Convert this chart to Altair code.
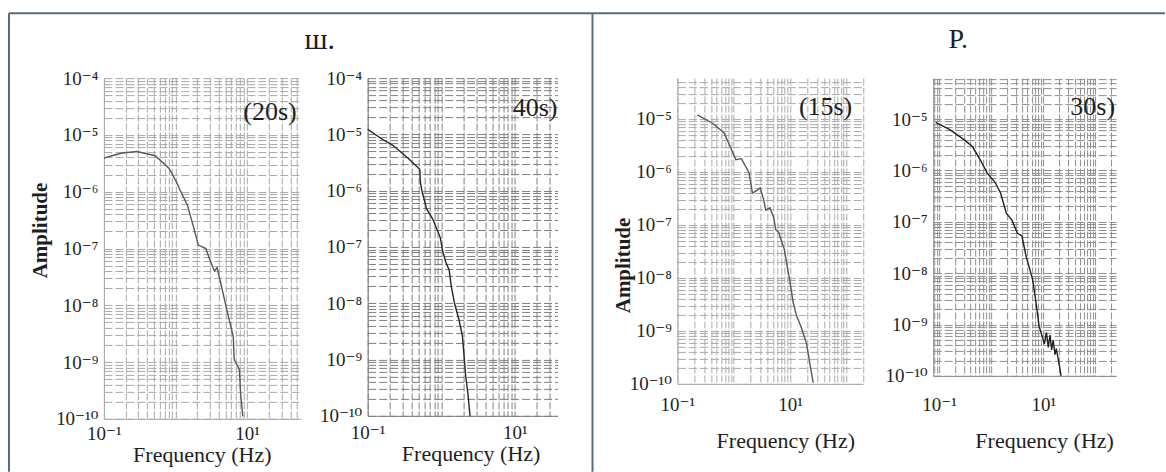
import altair as alt
import pandas as pd

# ---------------- data ----------------
f20 = [0.10, 0.13, 0.18, 0.29, 0.52, 0.81, 1.04, 1.15, 1.47, 1.75, 2.08, 2.65, 2.95,
       3.5, 3.8, 4.2, 5.0, 5.5, 6.4, 6.6, 7.8, 8.1, 8.7]
a20 = [3.9e-6, 4.3e-6, 4.8e-6, 5.1e-6, 4.3e-6, 2.6e-6, 1.45e-6, 1.08e-6, 5.7e-7, 2.6e-7,
       1.15e-7, 1.0e-7, 6.8e-8, 4.0e-8, 4.6e-8, 2.7e-8, 1.04e-8, 6.2e-9, 2.8e-9, 1.1e-9,
       7.4e-10, 2.8e-10, 1.1e-10]

f40 = [0.10, 0.158, 0.22, 0.36, 0.51, 0.52, 0.55, 0.63, 0.76, 0.97, 1.04, 1.15, 1.28,
       1.37, 1.52, 1.74, 1.94, 2.08, 2.15, 2.3, 2.46]
a40 = [1.23e-5, 8.2e-6, 6.4e-6, 3.7e-6, 2.4e-6, 1.4e-6, 9.5e-7, 4.8e-7, 3.2e-7, 1.47e-7,
       8.7e-8, 5.4e-8, 3.9e-8, 1.95e-8, 9.8e-9, 5.1e-9, 2.6e-9, 8.6e-10, 5e-10, 2.5e-10, 1e-10]

f15 = [0.225, 0.42, 0.67, 0.87, 1.09, 1.37, 1.88, 2.15, 2.58, 2.95, 3.4, 3.7, 4.4, 5.1,
       5.6, 6.4, 6.6, 7.9, 10, 11.4, 13.1, 15.7, 19.7, 22.4, 25.8]
a15 = [1.2e-5, 8.3e-6, 5.5e-6, 3.0e-6, 1.7e-6, 1.78e-6, 9.6e-7, 4.0e-7, 4.5e-7, 5.0e-7,
       3.0e-7, 1.9e-7, 2.1e-7, 1.4e-7, 8.1e-8, 7.1e-8, 6.2e-8, 3.5e-8, 8.2e-9, 3.4e-9,
       1.9e-9, 1.2e-9, 5.7e-10, 2.5e-10, 1.05e-10]

f30 = [0.086, 0.164, 0.31, 0.44, 0.62, 0.84, 1.19, 1.52, 1.95, 2.5, 3.2, 3.9, 4.7, 6.2,
       7.3, 8.3, 9.5, 10.5, 11.5, 12.5, 13.5, 14.5, 15.5, 16.8, 17.8, 20, 22]
a30 = [8.7e-6, 6.2e-6, 3.9e-6, 2.9e-6, 1.6e-6, 8.9e-7, 5.9e-7, 3.6e-7, 1.48e-7, 1.08e-7,
       6.0e-8, 5.3e-8, 2.1e-8, 7.8e-9, 2.6e-9, 9.3e-10, 6.0e-10, 4.2e-10, 7.0e-10, 3.6e-10,
       6.2e-10, 3.2e-10, 5.0e-10, 2.6e-10, 3.4e-10, 1.8e-10, 1.0e-10]

x_label_exps = [-1, 1]
y_label_exps_a = [-4, -5, -6, -7, -8, -9, -10]
y_label_exps_b = [-5, -6, -7, -8, -9, -10]

group_titles = ["ш.", "P."]
panel_tags = ["(20s)", "40s)", "(15s)", "30s)"]
x_title = "Frequency (Hz)"
y_title = "Amplitude"

SERIF = "Liberation Serif, DejaVu Serif, serif"
BORDER = "#5b6b7b"
TXT = "#1e1e1e"

SUP = {"0": "⁰", "1": "¹", "2": "²", "3": "³", "4": "⁴", "5": "⁵",
       "6": "⁶", "7": "⁷", "8": "⁸", "9": "⁹", "-": "⁻"}


def pow_label(e):
    return "10" + "".join(SUP[c] for c in str(e))


def label_expr(exps):
    parts = [f"abs(log(datum.value)/LN10 - ({e})) < 0.001 ? '{pow_label(e)}'" for e in exps]
    return " : ".join(parts) + " : ''"


def log_ticks(lo, hi):
    vals = []
    for e in range(-12, 4):
        for m in range(1, 10):
            v = m * 10.0 ** e
            if lo * 0.9999 <= v <= hi * 1.0001:
                vals.append(float(f"{v:.6g}"))
    return vals


one = pd.DataFrame({"k": [0]})


def panel(f, a, xdom, ydom, yexps, linec, gridc, tag, tagx, tagy,
          xtx, xty, xlp, ytitle=None, ytx=0, yty=0):
    df = pd.DataFrame({"f": f, "a": a, "i": list(range(len(f)))})
    xaxis = alt.Axis(values=log_ticks(*xdom), labelExpr=label_expr(x_label_exps),
                     labelOverlap=False, labelFlush=False, labelBound=False,
                     ticks=False, labelPadding=xlp, labelFontSize=19,
                     grid=True, gridColor=gridc, gridDash=[7, 2], gridWidth=1,
                     domainColor=gridc, title=x_title, titleX=xtx, titleY=xty,
                     titleBaseline="middle", titleAlign="center", titleFontSize=22,
                     titleFontWeight="normal")
    if ytitle:
        yaxis = alt.Axis(values=log_ticks(*ydom), labelExpr=label_expr(yexps),
                         labelOverlap=False, labelFlush=False, labelBound=False,
                         ticks=False, labelPadding=6, labelFontSize=19,
                         grid=True, gridColor=gridc, gridDash=[8, 3], gridWidth=1,
                         domainColor=gridc, title=ytitle, titleX=ytx, titleY=yty,
                         titleBaseline="middle", titleAlign="center", titleFontSize=21,
                         titleFontWeight="bold")
    else:
        yaxis = alt.Axis(values=log_ticks(*ydom), labelExpr=label_expr(yexps),
                         labelOverlap=False, labelFlush=False, labelBound=False,
                         ticks=False, labelPadding=6, labelFontSize=19,
                         grid=True, gridColor=gridc, gridDash=[8, 3], gridWidth=1,
                         domainColor=gridc, title=None)
    line = alt.Chart(df).mark_line(color=linec, strokeWidth=1.4).encode(
        x=alt.X("f:Q", scale=alt.Scale(type="log", domain=list(xdom), nice=False), axis=xaxis),
        y=alt.Y("a:Q", scale=alt.Scale(type="log", domain=list(ydom), nice=False), axis=yaxis),
        order="i:Q",
    )
    ann = alt.Chart(one).mark_text(text=tag, font=SERIF, fontSize=26, align="right",
                                   baseline="middle", color=TXT).encode(
        x=alt.value(tagx), y=alt.value(tagy))
    return line, ann


# panel 1 (20s)
l1, t1 = panel(f20, a20, (0.1, 56), (1e-10, 1e-4), y_label_exps_a,
               "#585858", "#a8a8a8", panel_tags[0], 193, 34, 98, 36, 6,
               ytitle=y_title, ytx=-63, yty=152)
# decorations (frame + group titles) drawn relative to panel 1
deco = [
    alt.Chart(one).mark_rule(color=BORDER, strokeWidth=2).encode(
        x=alt.value(-95), y=alt.value(-65), y2=alt.value(394)),
    alt.Chart(one).mark_rule(color=BORDER, strokeWidth=2).encode(
        x=alt.value(-95), x2=alt.value(1062), y=alt.value(-65)),
    alt.Chart(one).mark_rule(color=BORDER, strokeWidth=2).encode(
        x=alt.value(489), y=alt.value(-65), y2=alt.value(394)),
    alt.Chart(one).mark_text(text=group_titles[0], font=SERIF, fontSize=30, align="center",
                             baseline="middle", color=TXT).encode(
        x=alt.value(216), y=alt.value(-38)),
    alt.Chart(one).mark_text(text=group_titles[1], font=SERIF, fontSize=28, align="center",
                             baseline="middle", color=TXT).encode(
        x=alt.value(855), y=alt.value(-38)),
]
p1 = alt.layer(l1, t1, *deco).properties(width=197, height=341)

l2, t2 = panel(f40, a40, (0.1, 38), (1e-10, 1e-4), y_label_exps_a,
               "#262626", "#7e7e7e", panel_tags[1], 190, 30, 103, 38, 8)
p2 = alt.layer(l2, t2).properties(width=190, height=338)

l3, t3 = panel(f15, a15, (0.1, 200), (1e-10, 5.9e-5), y_label_exps_b,
               "#585858", "#aaaaaa", panel_tags[2], 175, 29, 108, 57, 12,
               ytitle=y_title, ytx=-54, yty=187)
p3 = alt.layer(l3, t3).properties(width=186, height=306)

l4, t4 = panel(f30, a30, (0.077, 250), (1e-10, 6.3e-5), y_label_exps_b,
               "#202020", "#8e8e8e", panel_tags[3], 182, 29, 111, 65, 20)
p4 = alt.layer(l4, t4).properties(width=183, height=298)


def spacer(w):
    return alt.Chart(one).mark_point(opacity=0).encode(
        x=alt.X("k:Q", axis=None), y=alt.Y("k:Q", axis=None)
    ).properties(width=w, height=10)


chart = alt.HConcatChart(
    hconcat=[p1, spacer(67), p2, spacer(120), p3, spacer(70), p4],
    spacing=0,
    bounds="flush",
    padding={"left": 8, "top": 12, "right": 0, "bottom": 0},
).configure(background="white").configure_view(stroke=None).configure_axis(
    labelFont=SERIF, titleFont=SERIF, labelColor=TXT, titleColor=TXT
)

chart.save("out.html", embed_options={"renderer": "svg", "actions": False})
